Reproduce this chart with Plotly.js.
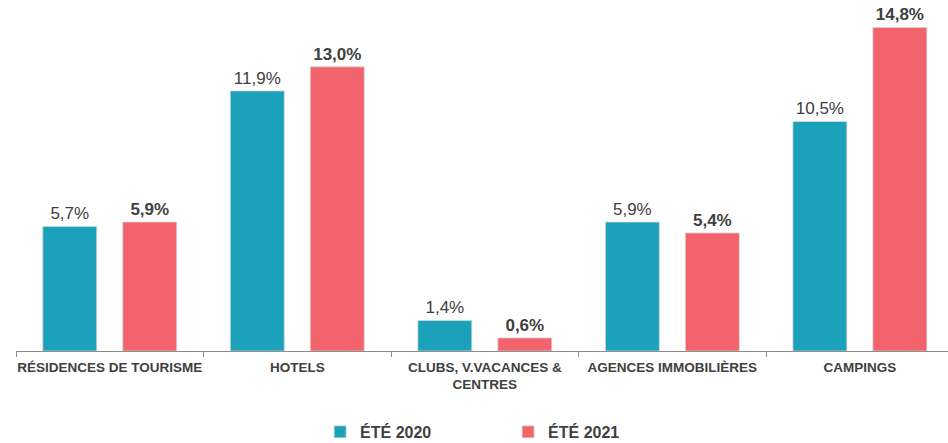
<!DOCTYPE html>
<html>
<head>
<meta charset="utf-8">
<script src="https://cdn.plot.ly/plotly-3.0.1.min.js"></script>
<style>html,body{margin:0;padding:0;background:#fff}#chart{width:948px;height:443px}</style>
</head>
<body>
<div id="chart"></div>
<script>
const categories = ["RÉSIDENCES DE TOURISME", "HOTELS", "CLUBS, V.VACANCES &<br>CENTRES", "AGENCES IMMOBILIÈRES", "CAMPINGS"];
const ete2020 = [5.7, 11.9, 1.4, 5.9, 10.5];
const ete2021 = [5.9, 13.0, 0.6, 5.4, 14.8];
const seriesNames = ["ÉTÉ 2020", "ÉTÉ 2021"];

const traces = [
  {
    type: 'bar', x: categories, y: ete2020, name: seriesNames[0],
    marker: {color: '#1BA1BA', line: {color: '#d9d9d9', width: 0.8}},
    texttemplate: '%{y:.1f}%', textposition: 'outside', cliponaxis: false,
    textfont: {family: 'Liberation Sans, Arial, sans-serif', size: 17, color: '#404040'}
  },
  {
    type: 'bar', x: categories, y: ete2021, name: seriesNames[1],
    marker: {color: '#F3636B', line: {color: '#d9d9d9', width: 0.8}},
    texttemplate: '%{y:.1f}%', textposition: 'outside', cliponaxis: false,
    textfont: {family: 'Liberation Sans, Arial, sans-serif', size: 17, color: '#404040', weight: 'bold'}
  }
];

const layout = {
  width: 948, height: 443,
  margin: {l: 16, r: 0, t: 10, b: 92},
  separators: ', ',
  paper_bgcolor: '#fff', plot_bgcolor: '#fff',
  barmode: 'group', bargap: 0.147, bargroupgap: 0.325,
  font: {family: 'Liberation Sans, Arial, sans-serif', color: '#404040'},
  xaxis: {
    type: 'category', range: [-0.5, 4.47],
    showline: true, linecolor: '#8c8c8c', linewidth: 1.3,
    ticks: 'outside', tickson: 'boundaries', ticklen: 5, tickcolor: '#8c8c8c',
    ticklabelstandoff: 3, tickangle: 0,
    tickfont: {size: 13.5, color: '#404040', weight: 'bold'},
    showgrid: false, zeroline: false
  },
  yaxis: {
    range: [0, 15.6], visible: false, showgrid: false, zeroline: false
  },
  showlegend: true,
  legend: {
    orientation: 'h', xref: 'paper', x: 0.528, xanchor: 'center',
    yref: 'container', y: 0.025, yanchor: 'middle',
    itemwidth: 30,
    entrywidth: 143, entrywidthmode: 'pixels',
    font: {size: 16, color: '#404040', weight: 'bold'}
  }
};

Plotly.newPlot('chart', traces, layout, {displayModeBar: false, staticPlot: true});
</script>
</body>
</html>
